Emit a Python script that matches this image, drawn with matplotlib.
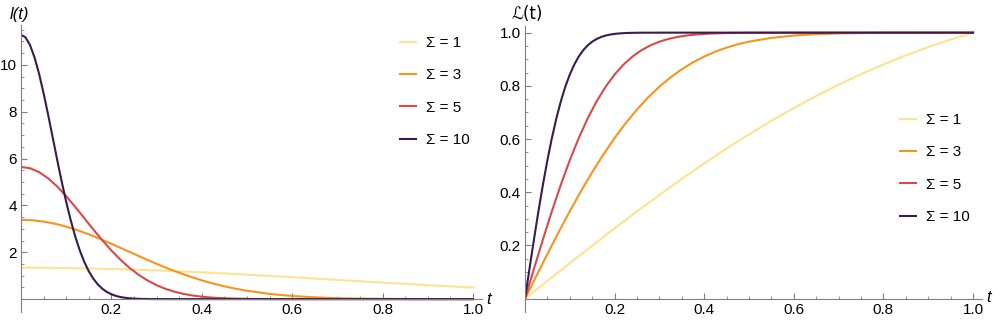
import matplotlib
matplotlib.use("Agg")
import matplotlib.pyplot as plt

plt.rcParams['font.family'] = ['Liberation Sans', 'DejaVu Sans']

# values
# Sigma = 1 and 3 share one t grid
t = [0, .025, .05, .075, .1, .125, .15, .175, .2, .225, .25, .275, .3, .325,
     .35, .375, .4, .425, .45, .475, .5, .55, .6, .65, .7, .75, .8, .85, .9,
     .95, 1.0]
# Sigma = 5 and 10 are read on finer grids where they change fast
t5 = [0, .02, .04, .06, .08, .1, .12, .14, .16, .18, .2, .22, .24, .26, .28,
      .3, .32, .34, .36, .38, .4, .42, .44, .46, .48, .5, .52, .54, .56, .58,
      .6, .7, .8, .9, 1.0]
t10 = [0, .01, .02, .03, .04, .05, .06, .07, .08, .09, .1, .11, .12, .13,
       .14, .15, .16, .17, .18, .19, .2, .21, .22, .23, .24, .25, .26, .27,
       .28, .29, .3, .4, .6, .8, 1.0]

l1 = [1.339, 1.338, 1.336, 1.331, 1.326, 1.318, 1.309, 1.299, 1.287, 1.273,
      1.258, 1.241, 1.224, 1.205, 1.185, 1.163, 1.141, 1.118, 1.094, 1.069,
      1.043, 0.990, 0.934, 0.878, 0.820, 0.763, 0.706, 0.650, 0.596, 0.543,
      0.493]
l3 = [3.385, 3.366, 3.310, 3.218, 3.094, 2.941, 2.765, 2.570, 2.362, 2.146,
      1.929, 1.714, 1.506, 1.308, 1.124, 0.955, 0.802, 0.666, 0.547, 0.444,
      0.357, 0.222, 0.133, 0.076, 0.041, 0.021, 0.011, 0.005, 0.002, 0.001,
      0.0]
l5 = [5.642, 5.586, 5.421, 5.156, 4.808, 4.394, 3.936, 3.456, 2.975, 2.510,
      2.076, 1.682, 1.337, 1.041, 0.795, 0.595, 0.436, 0.314, 0.221, 0.153,
      0.103, 0.069, 0.045, 0.028, 0.018, 0.011, 0.007, 0.004, 0.002, 0.001,
      0.001, 0.0, 0.0, 0.0, 0.0]
l10 = [11.284, 11.172, 10.842, 10.313, 9.616, 8.788, 7.873, 6.913, 5.950,
       5.020, 4.151, 3.365, 2.674, 2.082, 1.589, 1.189, 0.872, 0.627, 0.442,
       0.305, 0.207, 0.137, 0.089, 0.057, 0.036, 0.022, 0.013, 0.008, 0.004,
       0.002, 0.001, 0.0, 0.0, 0.0, 0.0]

L1 = [0, .0335, .0669, .1002, .1335, .1665, .1994, .2320, .2643, .2963, .3279,
      .3591, .3900, .4204, .4502, .4796, .5084, .5366, .5642, .5913, .6177,
      .6685, .7166, .7619, .8043, .8439, .8806, .9145, .9457, .9741, 1.0]
L3 = [0, .0845, .1680, .2497, .3286, .4041, .4755, .5422, .6039, .6603, .7112,
      .7568, .7969, .8321, .8624, .8884, .9103, .9287, .9438, .9562, .9661,
      .9804, .9891, .9942, .9970, .9985, .9993, .9997, .9999, 1.0, 1.0]
L5 = [0, .1125, .2227, .3286, .4284, .5205, .6039, .6778, .7421, .7969, .8427,
      .8802, .9103, .9340, .9523, .9661, .9763, .9838, .9891, .9928, .9953,
      .9970, .9981, .9989, .9993, .9996, .9998, .9999, .9999, 1.0, 1.0,
      1.0, 1.0, 1.0, 1.0]
L10 = [0, .1125, .2227, .3286, .4284, .5205, .6039, .6778, .7421, .7969,
       .8427, .8802, .9103, .9340, .9523, .9661, .9763, .9838, .9891, .9928,
       .9953, .9970, .9981, .9989, .9993, .9996, .9998, .9999, .9999, 1.0,
       1.0, 1.0, 1.0, 1.0, 1.0]

labels = ["Σ = 1", "Σ = 3", "Σ = 5", "Σ = 10"]
colors = ["#fde38f", "#f7941d", "#d84a4a", "#3a1b4e"]

left_series = [(t, l1), (t, l3), (t5, l5), (t10, l10)]
right_series = [(t, L1), (t, L3), (t5, L5), (t10, L10)]

fig = plt.figure(figsize=(9.96, 3.23), dpi=100)
ax1 = fig.add_axes([21 / 996, 1 - 312 / 323, 461 / 996, 287 / 323])
ax2 = fig.add_axes([525 / 996, 1 - 312 / 323, 457 / 996, 286 / 323])


def style_axes(ax, major, minor):
    for s in ("top", "right"):
        ax.spines[s].set_visible(False)
    ax.spines["bottom"].set_position(("data", 0))
    for s in ("left", "bottom"):
        ax.spines[s].set_color("#7f7f7f")
        ax.spines[s].set_linewidth(0.8)
    ax.set_xticks([0.2, 0.4, 0.6, 0.8, 1.0])
    ax.set_xticks([i * 0.05 for i in range(21)], minor=True)
    ax.set_yticks(major)
    ax.set_yticks(minor, minor=True)
    ax.tick_params(which="both", direction="in", color="#7f7f7f",
                   labelsize=11, pad=3)
    ax.tick_params(which="major", length=4, width=0.8)
    ax.tick_params(which="minor", length=2.5, width=0.6)
    ax.set_xlim(0, 1.02)


for (x, y), c, lab in zip(left_series, colors, labels):
    ax1.plot(x, y, color=c, lw=1.5, label=lab)
style_axes(ax1, [2, 4, 6, 8, 10], [i * 0.5 for i in range(24)])
ax1.set_ylim(-0.55, 11.7)
ax1.set_yticklabels(["2", "4", "6", "8", "10"])
ax1.set_xticklabels(["0.2", "0.4", "0.6", "0.8", "1.0"])

for (x, y), c, lab in zip(right_series, colors, labels):
    ax2.plot(x, y, color=c, lw=1.5, label=lab)
style_axes(ax2, [0.2, 0.4, 0.6, 0.8, 1.0], [i * 0.05 for i in range(21)])
ax2.set_ylim(-0.05, 1.025)
ax2.set_yticklabels(["0.2", "0.4", "0.6", "0.8", "1.0"])
ax2.set_xticklabels(["0.2", "0.4", "0.6", "0.8", "1.0"])

fig.text(10 / 996, 1 - 14 / 323, "l(t)", fontsize=12, style="italic",
         va="center", ha="left")
fig.text(486 / 996, 1 - 300 / 323, "t", fontsize=12, style="italic",
         va="center", ha="left")
fig.text(511 / 996, 1 - 14 / 323, "ℒ(t)", fontsize=12, va="center",
         ha="left", family=["DejaVu Sans"])
fig.text(986 / 996, 1 - 298 / 323, "t", fontsize=12, style="italic",
         va="center", ha="left")

leg_kw = dict(frameon=False, fontsize=11, handlelength=1.05,
              handletextpad=0.65, labelspacing=1.2, borderpad=0,
              borderaxespad=0, loc="upper left")
ax1.legend(bbox_to_anchor=(400 / 996, 1 - 36 / 323),
           bbox_transform=fig.transFigure, **leg_kw)
ax2.legend(bbox_to_anchor=(900 / 996, 1 - 113 / 323),
           bbox_transform=fig.transFigure, **leg_kw)

fig.savefig("out.png", dpi=100)
